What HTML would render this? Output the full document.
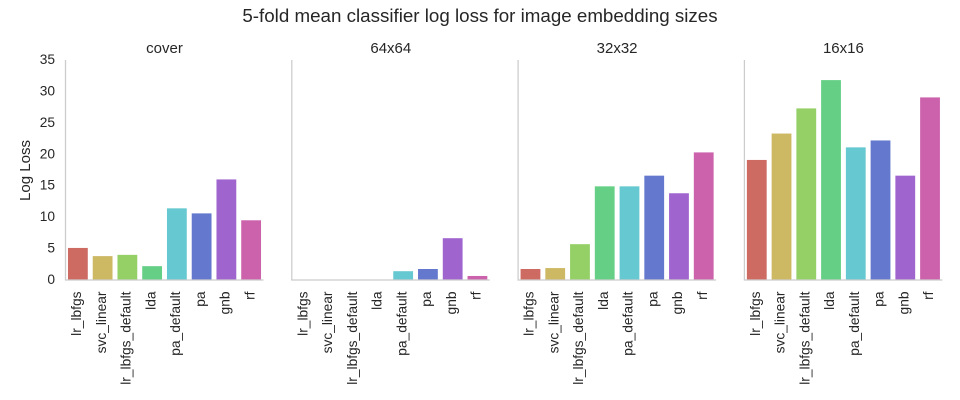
<!DOCTYPE html>
<html>
<head>
<meta charset="utf-8">
<style>
html,body{margin:0;padding:0;background:#fff;}
svg{display:block;font-family:"Liberation Sans",sans-serif;}
text{fill:#262626;}
</style>
</head>
<body>
<svg id="chart" width="960" height="400" viewBox="0 0 960 400"></svg>
<script>
const categories = ["lr_lbfgs","svc_linear","lr_lbfgs_default","lda","pa_default","pa","gnb","rf"];
const panelTitles = ["cover","64x64","32x32","16x16"];
const coverValues = [5.1,3.8,4.0,2.2,11.4,10.6,16.0,9.5];
const size64Values = [0.05,0.05,0.05,0.05,1.4,1.75,6.65,0.64];
const size32Values = [1.75,1.9,5.7,14.9,14.9,16.6,13.8,20.3];
const size16Values = [19.1,23.3,27.3,31.8,21.1,22.2,16.6,29.05];
const yTicks = [0,5,10,15,20,25,30,35];
const barColors = ["#cd6a62","#cdb864","#95d067","#64cf85","#66c8d0","#6479ce","#a064ce","#cd62ac"];

const NS = "http://www.w3.org/2000/svg";
const svg = document.getElementById("chart");
const seriesList = [coverValues,size64Values,size32Values,size16Values];
const panelLefts = [65.5,291.8,518.1,744.4];
const panelWidth = 198;
const plotTop = 60, plotBottom = 280;
const yScale = v => plotBottom - (v / 35) * (plotBottom - plotTop);
const xBand = (left, i) => left + (i + 0.5) * panelWidth / categories.length;
const barWidth = 0.8 * panelWidth / categories.length;

function make(tag, attrs, parent, text) {
  const el = document.createElementNS(NS, tag);
  for (const k in attrs) el.setAttribute(k, attrs[k]);
  if (text !== undefined) el.textContent = text;
  parent.appendChild(el);
  return el;
}

const title = make("text", {x:480, y:22, "text-anchor":"middle", "font-size":"18.75"}, svg, "5-fold mean classifier log loss for image embedding sizes");



const yTitle = make("text", {transform:"translate(30,170.5) rotate(-90)", "text-anchor":"middle", "font-size":"15"}, svg, "Log Loss");



yTicks.forEach(t => {
  const label = make("text", {x:55, y:yScale(t) + 4, "text-anchor":"end", "font-size":"13.75"}, svg, String(t));
  
  
});

seriesList.forEach((values, p) => {
  const left = panelLefts[p];
  const g = make("g", {}, svg);
  
  

  const pt = make("text", {x:left + panelWidth / 2, y:53, "text-anchor":"middle", "font-size":"15"}, g, panelTitles[p]);
  
  

  values.forEach((v, i) => {
    const cx = xBand(left, i);
    const top = yScale(v);
    const bar = make("rect", {x:cx - barWidth / 2, y:top, width:barWidth, height:plotBottom - top, fill:barColors[i]}, g);
    
    

    const label = make("text", {transform:"translate(" + (cx + 3.2) + ",291.5) rotate(-90)", "text-anchor":"end", "font-size":"13.75"}, g, categories[i]);
    
    
  });

  const ySpine = make("line", {x1:left, x2:left, y1:plotTop, y2:plotBottom, stroke:"#cccccc", "stroke-width":"1.25"}, g);
  
  

  const xSpine = make("line", {x1:left - 0.6, x2:left + panelWidth, y1:plotBottom, y2:plotBottom, stroke:"#cccccc", "stroke-width":"1.25"}, g);
  
  
});
</script>
</body>
</html>
